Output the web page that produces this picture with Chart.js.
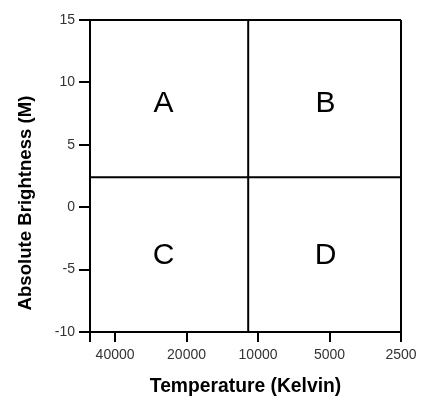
<!doctype html>
<html>
<head>
<meta charset="utf-8">
<title>Absolute Brightness vs Temperature</title>
<script src="https://cdn.jsdelivr.net/npm/chart.js"></script>
<style>
  html, body { margin: 0; padding: 0; background: #fff; }
  #wrap { width: 437px; height: 406px; position: relative; }
</style>
</head>
<body>
<div id="wrap"><canvas id="chart"></canvas></div>
<script>
// axis ranges and ticks
const tempMin = 2500
const tempMax = 51000
const tempTicks = [51000, 40000, 20000, 10000, 5000, 2500]
const tempTickLabels = ['', '40000', '20000', '10000', '5000', '2500']
const magMin = -10
const magMax = 15
const magTicks = [-10, -5, 0, 5, 10, 15]

// dividing lines
const dividerTemp = 11000
const dividerMag = 2.4

// quadrant letters
const quadrantLetters = ['A', 'B', 'C', 'D']
const quadrantTemps = [25000, 5200, 25000, 5200]
const quadrantMags = [8.3, 8.3, -3.9, -3.9]

const yTitle = 'Absolute Brightness (M)'
const fontFamily = '"Liberation Sans", Arial, sans-serif'

const quadrantLabels = {
  id: 'quadrantLabels',
  afterDatasetsDraw(chart) {
    const { ctx, scales } = chart
    ctx.save()
    ctx.fillStyle = '#000'
    ctx.font = '30px ' + fontFamily
    ctx.textAlign = 'center'
    ctx.textBaseline = 'middle'
    quadrantLetters.forEach((letter, i) => {
      ctx.fillText(letter, scales.x.getPixelForValue(quadrantTemps[i]), scales.y.getPixelForValue(quadrantMags[i]))
    })
    ctx.restore()
  }
}

// the y title in the picture sits a bit lower than the axis middle
const yAxisTitle = {
  id: 'yAxisTitle',
  afterDraw(chart) {
    const { ctx } = chart
    ctx.save()
    ctx.translate(26, 203)
    ctx.rotate(-Math.PI / 2)
    ctx.fillStyle = '#000'
    ctx.font = 'bold 18.6px ' + fontFamily
    ctx.textAlign = 'center'
    ctx.textBaseline = 'middle'
    ctx.fillText(yTitle, 0, 0)
    ctx.restore()
  }
}

new Chart(document.getElementById('chart'), {
  type: 'scatter',
  data: {
    datasets: [
      {
        data: [{ x: dividerTemp, y: magMin }, { x: dividerTemp, y: magMax }],
        showLine: true,
        borderColor: '#000',
        borderWidth: 2,
        pointRadius: 0
      },
      {
        data: [{ x: tempMax, y: dividerMag }, { x: tempMin, y: dividerMag }],
        showLine: true,
        borderColor: '#000',
        borderWidth: 2,
        pointRadius: 0
      }
    ]
  },
  options: {
    responsive: true,
    maintainAspectRatio: false,
    animation: false,
    events: [],
    layout: { padding: { top: 20, right: 36, bottom: 0, left: 0 } },
    plugins: {
      legend: { display: false },
      tooltip: { enabled: false }
    },
    scales: {
      x: {
        type: 'logarithmic',
        reverse: true,
        min: tempMin,
        max: tempMax,
        afterBuildTicks(scale) {
          scale.ticks = tempTicks.map((v) => ({ value: v }))
        },
        afterFit(scale) {
          scale.height = 74
        },
        border: { color: '#000', width: 2 },
        grid: {
          color: (c) => (c.tick && c.tick.value === tempMin ? '#000' : 'rgba(0,0,0,0)'),
          lineWidth: 2,
          tickColor: '#000',
          tickWidth: 2,
          tickLength: 10
        },
        ticks: {
          autoSkip: false,
          maxRotation: 0,
          padding: 5,
          color: '#333',
          font: { family: fontFamily, size: 14 },
          callback: (value, index) => tempTickLabels[index]
        },
        title: {
          display: true,
          text: 'Temperature (Kelvin)',
          color: '#000',
          font: { family: fontFamily, size: 19.3, weight: 'bold' },
          padding: { top: 0, bottom: 7.4 }
        }
      },
      y: {
        min: magMin,
        max: magMax,
        afterBuildTicks(scale) {
          scale.ticks = magTicks.map((v) => ({ value: v }))
        },
        afterFit(scale) {
          scale.width = 90
        },
        border: { color: '#000', width: 2 },
        grid: {
          color: (c) => (c.tick && c.tick.value === magMax ? '#000' : 'rgba(0,0,0,0)'),
          lineWidth: 2,
          tickColor: '#000',
          tickWidth: 2,
          tickLength: 11
        },
        ticks: {
          padding: 4,
          color: '#333',
          font: { family: fontFamily, size: 14 }
        },
        title: { display: false }
      }
    }
  },
  plugins: [quadrantLabels, yAxisTitle]
})
</script>
</body>
</html>
